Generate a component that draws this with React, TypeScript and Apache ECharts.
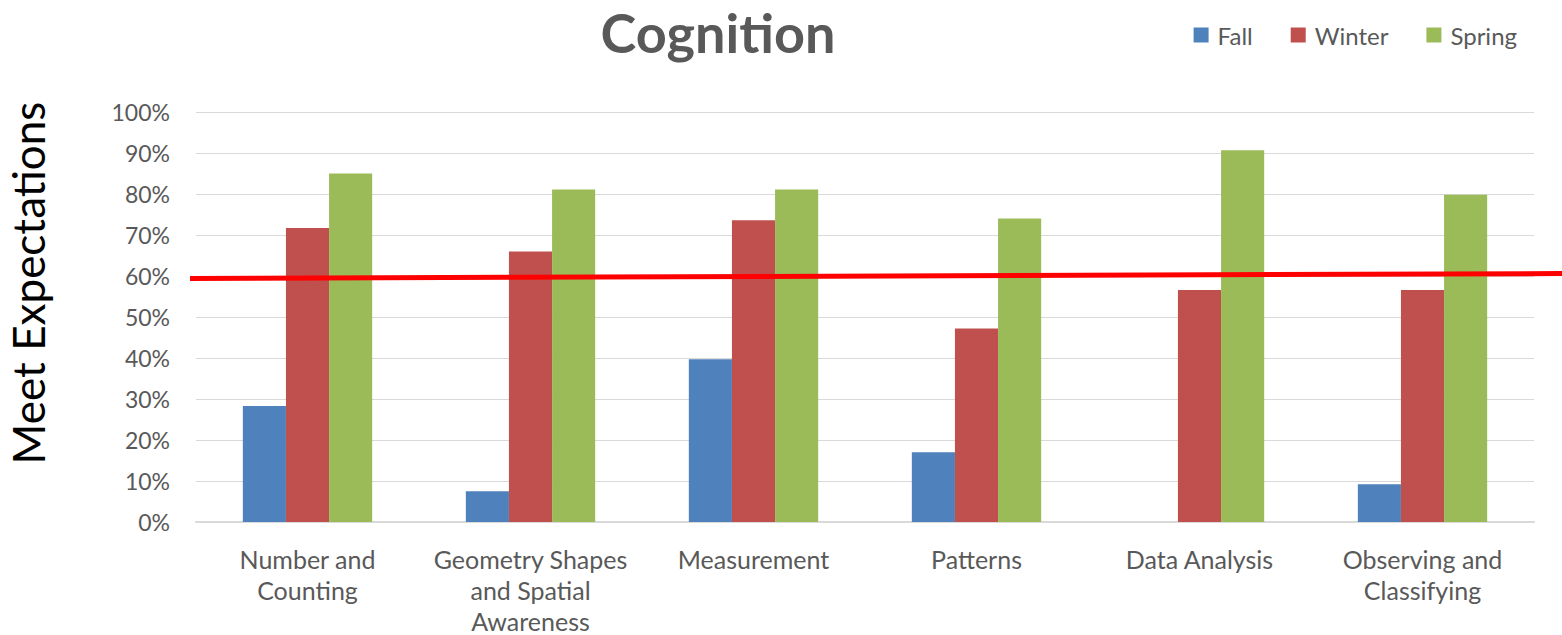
import React, { useEffect, useRef } from "react";
import * as echarts from "echarts";

const categories = [
  "Number and\nCounting",
  "Geometry Shapes\nand Spatial\nAwareness",
  "Measurement",
  "Patterns",
  "Data Analysis",
  "Observing and\nClassifying",
];
const fall = [28.3, 7.5, 39.7, 17, 0, 9.2];
const winter = [71.7, 66, 73.6, 47.2, 56.6, 56.6];
const spring = [85, 81.1, 81.1, 74, 90.7, 79.8];
const yTicks = [0, 10, 20, 30, 40, 50, 60, 70, 80, 90, 100];
const thresholdLeft = 59.4;
const thresholdRight = 60.6;

const FONT = "Lato, 'Open Sans', sans-serif";

export default function App() {
  const ref = useRef<HTMLDivElement>(null);
  useEffect(() => {
    if (!ref.current) return;
    const chart = echarts.init(ref.current, null, { renderer: "svg" });
    const barSeries = (name: string, data: number[], color: string) => ({
      name,
      type: "bar",
      data,
      itemStyle: { color },
      barGap: "0%",
      barCategoryGap: "42%",
    });
    chart.setOption({
      animation: false,
      textStyle: { fontFamily: FONT },
      title: {
        text: "Cognition",
        left: 713,
        top: 0,
        textAlign: "center",
        textStyle: { fontSize: 54, fontWeight: "bold", color: "#595959", fontFamily: FONT },
      },
      legend: {
        data: ["Fall", "Winter", "Spring"],
        right: 40,
        top: 18,
        itemWidth: 15,
        itemHeight: 15,
        itemGap: 38,
        icon: "rect",
        textStyle: { fontSize: 24, color: "#595959", fontFamily: FONT, padding: [0, 0, 0, 4] },
      },
      grid: {
        left: 196,
        right: 28,
        top: 112,
        bottom: 113,
        containLabel: false,
        outerBoundsMode: "none",
      },
      xAxis: {
        type: "category",
        data: categories,
        axisLine: { lineStyle: { color: "#d9d9d9", width: 2 } },
        axisTick: { show: false },
        axisLabel: {
          fontSize: 25,
          color: "#595959",
          lineHeight: 31,
          margin: 21,
          interval: 0,
          fontFamily: FONT,
        },
      },
      yAxis: {
        type: "value",
        min: yTicks[0],
        max: yTicks[yTicks.length - 1],
        interval: 10,
        name: "Meet Expectations",
        nameLocation: "middle",
        nameGap: 146,
        nameRotate: 90,
        nameTextStyle: { fontSize: 44, color: "#000", fontFamily: FONT, padding: [0, 0, 0, 68] },
        axisLine: { show: false },
        axisTick: { show: false },
        axisLabel: { formatter: "{value}%", fontSize: 23, color: "#595959", margin: 26, fontFamily: FONT },
        splitLine: { lineStyle: { color: "#d9d9d9", width: 1 } },
      },
      series: [
        barSeries("Fall", fall, "#4f81bd"),
        barSeries("Winter", winter, "#c0504d"),
        barSeries("Spring", spring, "#9bbb59"),
      ],
    });
    const yl = chart.convertToPixel({ yAxisIndex: 0 }, thresholdLeft) as number;
    const yr = chart.convertToPixel({ yAxisIndex: 0 }, thresholdRight) as number;
    chart.setOption({
      graphic: [
        {
          type: "line",
          shape: { x1: 190, y1: yl, x2: 1562, y2: yr },
          style: { stroke: "#ff0000", lineWidth: 5 },
          z: 100,
        },
      ],
    });
    return () => chart.dispose();
  }, []);
  return (
    <div
      ref={ref}
      style={{ position: "fixed", left: 0, top: 0, width: 1562, height: 635, background: "#fff" }}
    />
  );
}
